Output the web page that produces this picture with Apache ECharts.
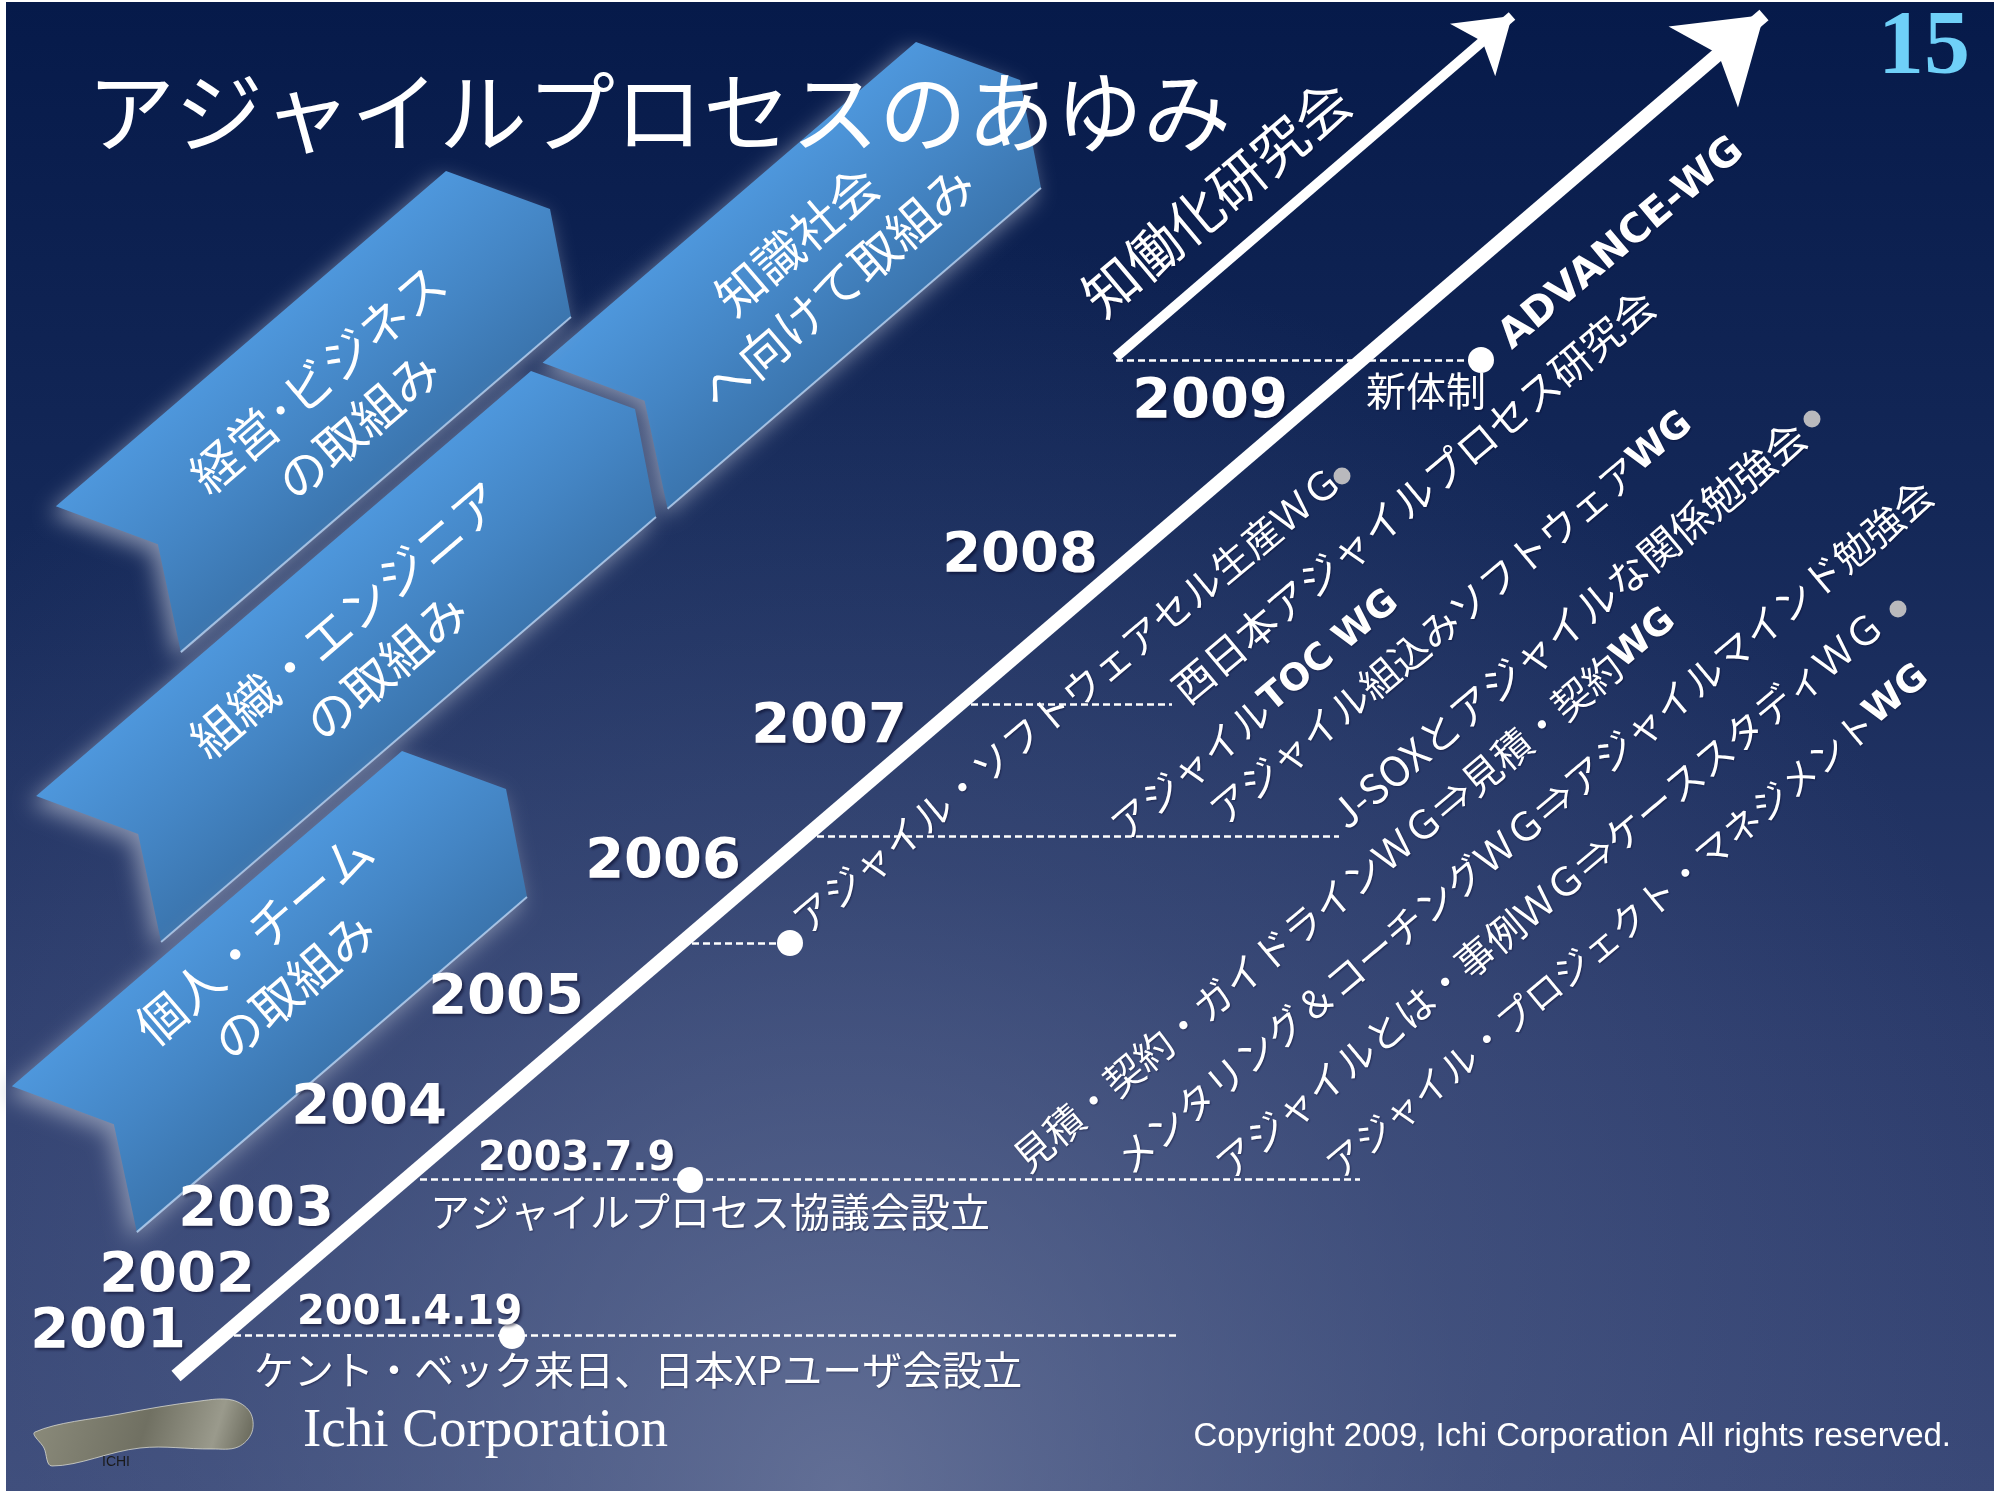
<!DOCTYPE html>
<html>
<head>
<meta charset="utf-8">
<title>アジャイルプロセスのあゆみ</title>
<script src="https://cdn.jsdelivr.net/npm/echarts@6/dist/echarts.min.js"></script>
<style>
html, body { margin: 0; padding: 0; background: #fff; }
#main { width: 1999px; height: 1494px; }
</style>
</head>
<body>
<div id="main"></div>
<script>
// タイムラインの年ラベル（右端位置と高さ）
var years = ['2001', '2002', '2003', '2004', '2005', '2006', '2007', '2008', '2009'];
var yearRight = [186, 255, 334, 447, 584, 741, 907, 1098, 1288];
var yearRow = [1332, 1276, 1210, 1108, 998, 862, 727, 556, 402];

// 矢印（始点, 先端）
var mainArrow = [[176, 1376], [1764, 15]];
var subArrow = [[1116, 357], [1512, 16]];

// 点線（各イベントの行）
var eventRow = [1335, 1179, 943, 836, 704, 360];
var eventFrom = [234, 420, 692, 817, 971, 1116];
var eventTo = [1179, 1360, 790, 1339, 1172, 1481];

// 白丸・灰色丸
var dotAt = [[512, 1336], [690, 1180], [790, 943], [1481, 360]];
var grayDotAt = [[1342, 476], [1812, 419], [1898, 609]];

// 日付ラベルと出来事
var dateText = ['2001.4.19', '2003.7.9'];
var dateAt = [[297, 1314], [478, 1160]];
var eventText = ['ケント・ベック来日、日本XPユーザ会設立', 'アジャイルプロセス協議会設立', '新体制'];
var eventAt = [[254, 1370], [430, 1212], [1366, 391]];

// 斜めの活動名
var topicText = [
    'アジャイル・ソフトウェアセル生産ＷＧ',
    '西日本アジャイルプロセス研究会',
    'アジャイル{w|TOC WG}',
    'アジャイル組込みソフトウェア{w|WG}',
    'J-SOXとアジャイルな関係勉強会',
    '見積・契約・ガイドラインＷＧ⇒見積・契約{w|WG}',
    'メンタリング＆コーチングＷＧ⇒アジャイルマインド勉強会',
    'アジャイルとは・事例ＷＧ⇒ケーススタディＷＧ',
    'アジャイル・プロジェクト・マネジメント{w|WG}',
    '{a|ADVANCE-WG}',
    '{k|知働化研究会}'
];
var topicAt = [[798, 925], [1178, 694], [1116, 831], [1215, 816], [1337, 819],
    [1019, 1163], [1121, 1165], [1221, 1170], [1331, 1170], [1505, 342], [1090, 304]];
var topicSize = [39, 41, 39, 39, 41, 39, 39, 39, 37, 39, 39];

// 左側の帯（上端の点, 長さ, 文字）
var bandTop = [[916, 42], [446, 171], [531, 371], [402, 751]];
var bandLen = [492, 514, 652, 514];
var bandText = ['知識社会\nへ向けて取組み', '経営･ビジネス\nの取組み', '組織・エンジニア\nの取組み', '個人・チーム\nの取組み'];
var bandTextAt = [[817, 264], [338, 402], [366, 643], [274, 962]];

var dom = document.getElementById('main');
var myChart = echarts.init(dom, null, {renderer: 'canvas'});

var shadowText = {
    textShadowColor: 'rgba(0,0,30,0.55)',
    textShadowBlur: 3,
    textShadowOffsetX: 2,
    textShadowOffsetY: 2
};

function labelPoints(names, pos) {
    return names.map(function (n, i) {
        return {name: n, value: pos[i]};
    });
}

var hidden = {color: 'rgba(0,0,0,0)', opacity: 1};

var option = {
    animation: false,
    backgroundColor: '#ffffff',
    title: [
        {
            text: 'アジャイルプロセスのあゆみ', left: 87, top: 68, padding: 0,
            textStyle: {color: '#fff', fontSize: 88, fontFamily: 'Noto Sans CJK JP', fontWeight: 'normal', lineHeight: 88}
        },
        {
            text: '15', right: 29, top: 3, padding: 0,
            textStyle: {color: '#6fd0f8', fontSize: 92, fontFamily: 'Liberation Serif', fontWeight: 'bold', lineHeight: 92}
        },
        {
            text: 'Ichi Corporation', left: 303, top: 1404, padding: 0,
            textStyle: {color: '#fff', fontSize: 55, fontFamily: 'Liberation Serif', fontWeight: 'normal', lineHeight: 55}
        },
        {
            text: 'Copyright 2009, Ichi Corporation All rights reserved.', right: 48, top: 1420, padding: 0,
            textStyle: {color: '#fff', fontSize: 33, fontFamily: "'Liberation Sans Narrow', 'Arial Narrow', sans-serif", fontWeight: 'normal', lineHeight: 34}
        }
    ],
    graphic: [
        {
            type: 'rect', z: -100, silent: true,
            shape: {x: 6, y: 2, width: 1988, height: 1489},
            style: {
                fill: new echarts.graphic.LinearGradient(0, 0, 0, 1, [
                    {offset: 0, color: '#061a4a'},
                    {offset: 0.35, color: '#142858'},
                    {offset: 0.7, color: '#2b3b6b'},
                    {offset: 1, color: '#384776'}
                ])
            }
        },
        {
            type: 'rect', z: -99, silent: true,
            shape: {x: 6, y: 2, width: 1988, height: 1489},
            style: {
                fill: new echarts.graphic.RadialGradient(0.42, 1.0, 0.85, [
                    {offset: 0, color: 'rgba(112,124,160,0.75)'},
                    {offset: 0.5, color: 'rgba(95,110,150,0.3)'},
                    {offset: 1, color: 'rgba(90,105,150,0)'}
                ])
            }
        },
        {
            type: 'polygon', z: 10, silent: true,
            shape: {
                points: [[35, 1432], [120, 1414], [200, 1401], [232, 1400], [250, 1412], [252, 1432], [238, 1447], [212, 1449], [140, 1448], [52, 1466], [44, 1448]],
                smooth: 0.35
            },
            style: {
                fill: new echarts.graphic.LinearGradient(0, 0, 1, 1, [
                    {offset: 0, color: '#8c8c7c'},
                    {offset: 0.5, color: '#707062'},
                    {offset: 0.8, color: '#9a9a8c'},
                    {offset: 1, color: '#5c5c4e'}
                ]),
                stroke: 'rgba(230,230,220,0.7)', lineWidth: 1
            }
        },
        {
            type: 'text', z: 11, silent: true, x: 102, y: 1462,
            style: {text: 'ICHI', fill: '#1a1a1a', font: '14px "Liberation Sans Narrow", "Liberation Sans", sans-serif', verticalAlign: 'middle'}
        }
    ],
    grid: {left: 0, right: 0, top: 0, bottom: 0, containLabel: false},
    xAxis: {type: 'value', min: 0, max: 1999, show: false},
    yAxis: {type: 'value', min: 0, max: 1494, inverse: true, show: false},
    series: [
        {
            // 左の帯
            type: 'custom',
            coordinateSystem: 'cartesian2d',
            silent: true,
            z: 1,
            data: bandTop.map(function (p, i) {
                return [p[0], p[1], bandLen[i], bandTextAt[i][0], bandTextAt[i][1]];
            }),
            renderItem: function (params, api) {
                var i = params.dataIndex;
                var tx = api.value(0), ty = api.value(1), len = api.value(2);
                var dx = -0.759 * len, dy = 0.652 * len;
                var raw = [[tx, ty], [tx + 104, ty + 38], [tx + 125, ty + 146],
                    [tx + 125 + dx, ty + 146 + dy], [tx + 102 + dx, ty + 38 + dy], [tx + dx, ty + dy]];
                var pts = raw.map(function (p) { return api.coord(p); });
                var u = api.coord([tx + dx / 2, ty + dy / 2]);
                var d = api.coord([tx + 125 + dx / 2, ty + 146 + dy / 2]);
                var c = api.coord([api.value(3), api.value(4)]);
                return {
                    type: 'group',
                    children: [
                        {
                            type: 'polygon',
                            shape: {points: pts},
                            style: {
                                fill: {
                                    type: 'linear', x: u[0], y: u[1], x2: d[0], y2: d[1], global: true,
                                    colorStops: [
                                        {offset: 0, color: '#4e97dc'},
                                        {offset: 0.55, color: '#4485c4'},
                                        {offset: 1, color: '#3b75ae'}
                                    ]
                                },
                                shadowBlur: 22,
                                shadowColor: 'rgba(150,160,185,0.85)',
                                shadowOffsetX: -6,
                                shadowOffsetY: 8
                            }
                        },
                        {
                            type: 'polyline',
                            shape: {points: [pts[2], pts[3]]},
                            style: {stroke: 'rgba(195,220,250,0.75)', lineWidth: 2, fill: null}
                        },
                        {
                            type: 'text',
                            x: c[0], y: c[1],
                            rotation: 0.71,
                            style: {
                                text: bandText[i],
                                fill: '#fff',
                                fontSize: 49,
                                fontFamily: 'Noto Sans CJK JP',
                                lineHeight: 62,
                                align: 'center', verticalAlign: 'middle',
                                textAlign: 'center', textVerticalAlign: 'middle'
                            }
                        }
                    ]
                };
            }
        },
        {
            // 点線
            type: 'lines',
            coordinateSystem: 'cartesian2d',
            silent: true,
            z: 2,
            lineStyle: {color: '#ffffff', width: 2.5, type: [7, 4], opacity: 1},
            data: eventRow.map(function (y, i) {
                return {coords: [[eventFrom[i], y], [eventTo[i], y]]};
            })
        },
        {
            // メインの矢印
            type: 'lines',
            coordinateSystem: 'cartesian2d',
            silent: true,
            z: 3,
            symbol: ['none', 'arrow'],
            symbolSize: [79, 80],
            lineStyle: {color: '#ffffff', width: 14, opacity: 1, cap: 'butt'},
            data: [{coords: mainArrow}]
        },
        {
            // 知働化研究会の矢印
            type: 'lines',
            coordinateSystem: 'cartesian2d',
            silent: true,
            z: 3,
            symbol: ['none', 'arrow'],
            symbolSize: [52, 52],
            lineStyle: {color: '#ffffff', width: 10, opacity: 1, cap: 'butt'},
            data: [{coords: subArrow}]
        },
        {
            type: 'scatter', silent: true, z: 4,
            symbolSize: 26,
            itemStyle: {color: '#ffffff', opacity: 1},
            data: dotAt
        },
        {
            type: 'scatter', silent: true, z: 4,
            symbolSize: 17,
            itemStyle: {color: '#b9b9bd', opacity: 1},
            data: grayDotAt
        },
        {
            // 年
            type: 'scatter', silent: true, z: 5,
            symbolSize: 1, itemStyle: hidden,
            data: years.map(function (y, i) { return {name: y, value: [yearRight[i], yearRow[i]]}; }),
            label: Object.assign({
                show: true, position: 'inside', align: 'right', verticalAlign: 'middle', opacity: 1,
                formatter: '{b}', color: '#fff', fontSize: 56, fontFamily: 'DejaVu Sans', fontWeight: 'bold'
            }, shadowText)
        },
        {
            // 日付
            type: 'scatter', silent: true, z: 5,
            symbolSize: 1, itemStyle: hidden,
            data: labelPoints(dateText, dateAt),
            label: Object.assign({
                show: true, position: 'inside', align: 'left', verticalAlign: 'middle', opacity: 1,
                formatter: '{b}', color: '#fff', fontSize: 40, fontFamily: 'DejaVu Sans', fontWeight: 'bold'
            }, shadowText)
        },
        {
            // 出来事
            type: 'scatter', silent: true, z: 5,
            symbolSize: 1, itemStyle: hidden,
            data: labelPoints(eventText, eventAt),
            label: {
                show: true, position: 'inside', align: 'left', verticalAlign: 'middle', opacity: 1,
                formatter: '{b}', color: '#fff', fontSize: 40, fontFamily: 'Noto Sans CJK JP',
                textShadowColor: 'rgba(0,0,30,0.4)', textShadowBlur: 2, textShadowOffsetX: 1, textShadowOffsetY: 1
            }
        },
        {
            // 斜めの活動名
            type: 'scatter', silent: true, z: 5,
            symbolSize: 1, itemStyle: hidden,
            data: topicText.map(function (t, i) {
                return {name: t, value: topicAt[i], label: {fontSize: topicSize[i]}};
            }),
            label: {
                show: true, position: 'inside', align: 'left', verticalAlign: 'middle', opacity: 1,
                rotate: 40,
                formatter: function (p) { return p.name; },
                color: '#fff', fontSize: 39, fontFamily: 'Noto Sans CJK JP',
                textShadowColor: 'rgba(0,0,30,0.4)', textShadowBlur: 2, textShadowOffsetX: 1, textShadowOffsetY: 1,
                rich: {
                    w: {color: '#fff', fontSize: 37, fontFamily: 'DejaVu Sans', fontWeight: 'bold'},
                    a: {color: '#fff', fontSize: 40, fontFamily: 'DejaVu Sans', fontWeight: 'bold'},
                    k: {color: '#fff', fontSize: 55, fontFamily: 'Noto Sans CJK JP'}
                }
            }
        }
    ]
};

myChart.setOption(option);

window.onresize = function () {
    myChart.resize();
};
</script>
</body>
</html>
